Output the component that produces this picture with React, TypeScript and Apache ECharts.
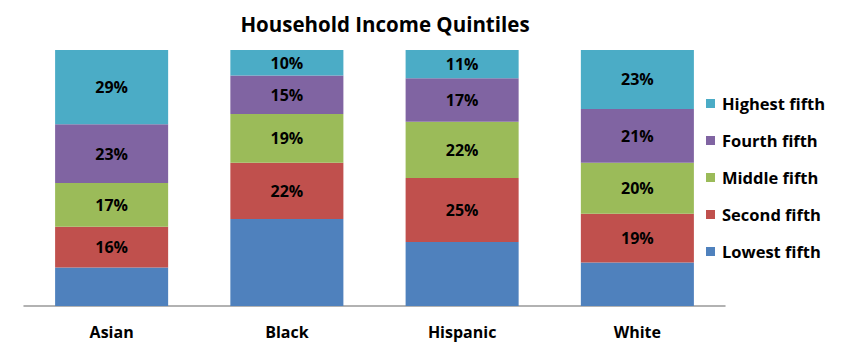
import React, { useEffect, useRef } from "react";
import * as echarts from "echarts";

const categories = ["Asian", "Black", "Hispanic", "White"];
const lowest = [15, 34, 25, 17];
const second = [16, 22, 25, 19];
const middle = [17, 19, 22, 20];
const fourth = [23, 15, 17, 21];
const highest = [29, 10, 11, 23];

const seriesNames = ["Lowest fifth", "Second fifth", "Middle fifth", "Fourth fifth", "Highest fifth"];
const seriesData = [lowest, second, middle, fourth, highest];
const colors = ["#4F81BD", "#C0504D", "#9BBB59", "#8064A2", "#4BACC6"];
const legendOrder = ["Highest fifth", "Fourth fifth", "Middle fifth", "Second fifth", "Lowest fifth"];

const FONT = "'Open Sans', Lato, sans-serif";

export default function App() {
  const ref = useRef<HTMLDivElement>(null);
  useEffect(() => {
    document.body.style.margin = "0";
    const chart = echarts.init(ref.current!, null, { renderer: "svg" });
    chart.setOption({
      animation: false,
      backgroundColor: "#ffffff",
      title: {
        text: "Household Income Quintiles",
        left: 380,
        textAlign: "center",
        top: 8,
        textStyle: { fontFamily: FONT, fontWeight: "bold", fontSize: 20.5, color: "#000" },
      },
      legend: {
        orient: "vertical",
        left: 701,
        top: 90,
        itemWidth: 9,
        itemHeight: 9,
        itemGap: 20,
        icon: "rect",
        data: legendOrder,
        textStyle: { fontFamily: FONT, fontWeight: "bold", fontSize: 16.5, color: "#000", lineHeight: 17, padding: [0, 0, 0, 2] },
      },
      grid: { left: 24, right: 119, top: 50, bottom: 45 },
      xAxis: {
        type: "category",
        data: categories,
        axisLine: { lineStyle: { color: "#999", width: 1.5 } },
        axisTick: { show: false },
        axisLabel: { fontFamily: FONT, fontWeight: "bold", fontSize: 16, color: "#000", margin: 18 },
      },
      yAxis: { type: "value", min: 0, max: 100, show: false, splitLine: { show: false } },
      series: seriesNames.map((name, i) => ({
        name,
        type: "bar",
        stack: "total",
        barCategoryGap: "35.5%",
        data: seriesData[i],
        itemStyle: { color: colors[i] },
        label: {
          show: i > 0,
          position: "inside",
          formatter: (p: any) => p.value + "%",
          fontFamily: FONT,
          fontWeight: "bold",
          fontSize: 16,
          color: "#000",
        },
      })),
    });
    return () => chart.dispose();
  }, []);
  return <div ref={ref} style={{ width: 844, height: 351 }} />;
}
